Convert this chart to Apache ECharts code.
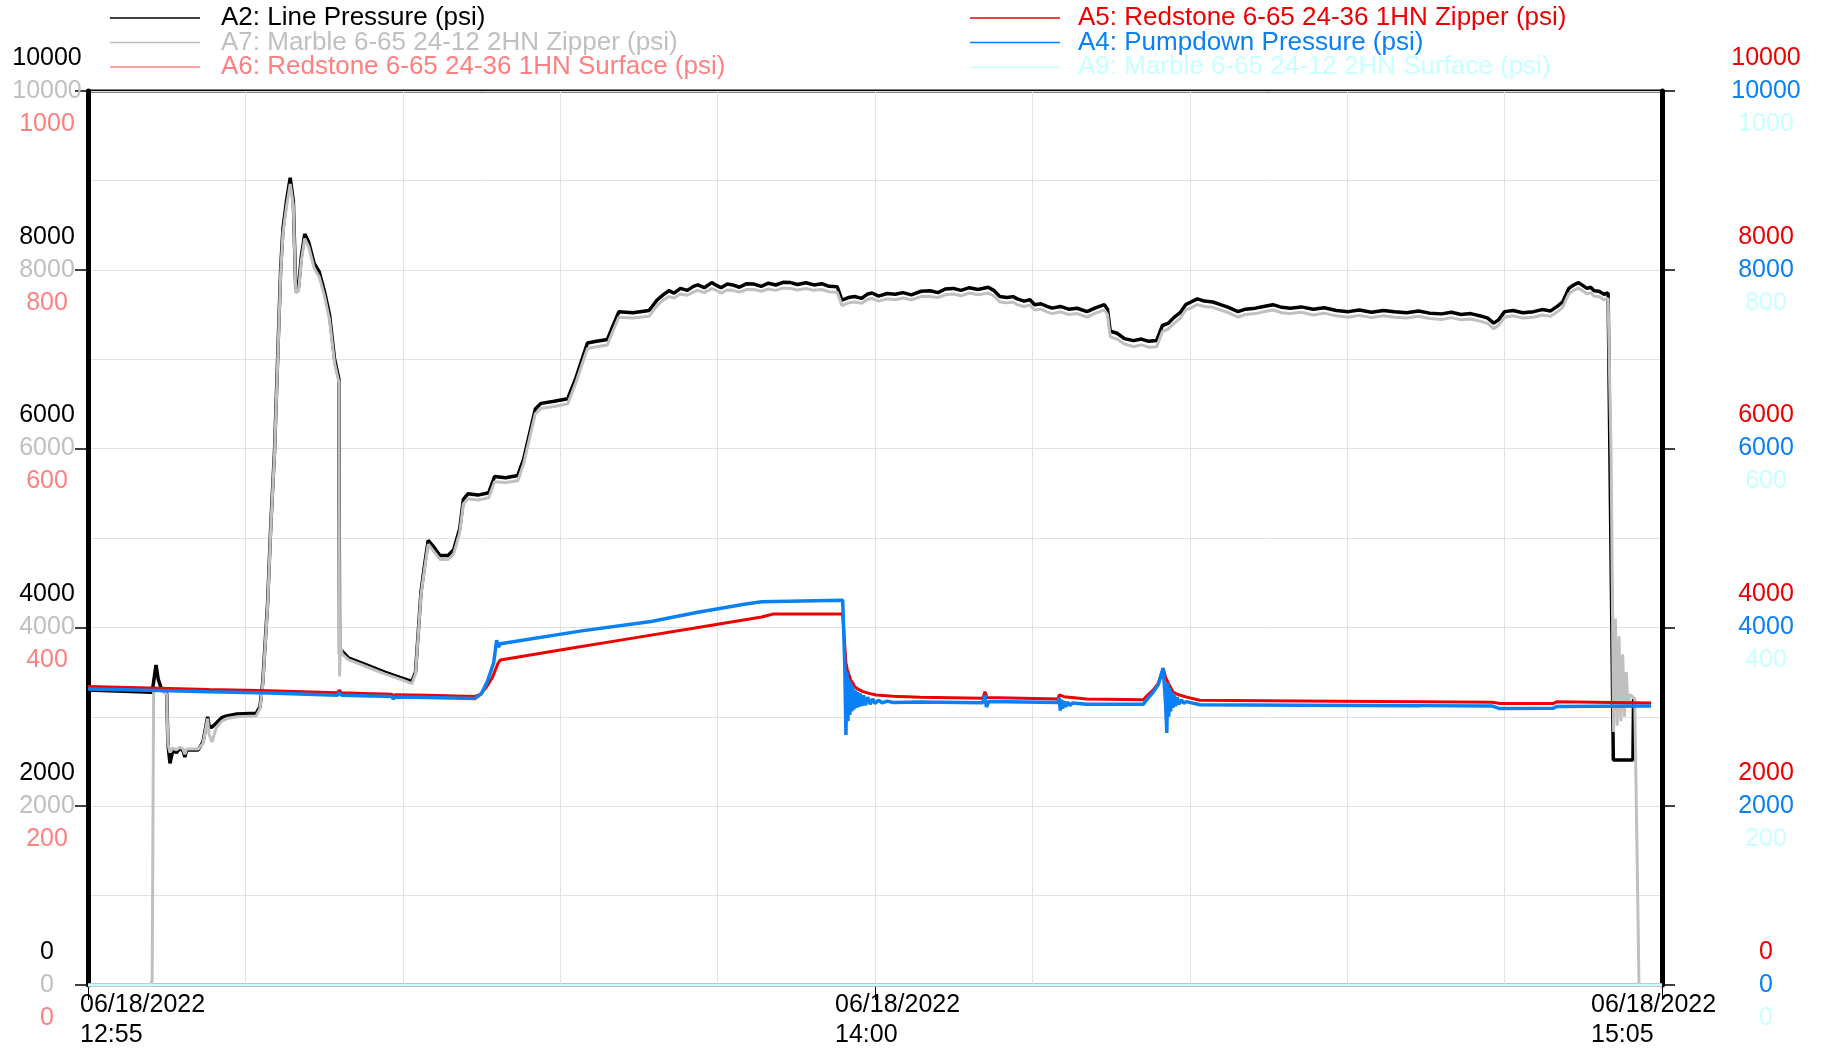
<!DOCTYPE html>
<html><head><meta charset="utf-8">
<script src="https://cdn.jsdelivr.net/npm/echarts/dist/echarts.min.js"></script>
<style>html,body{margin:0;padding:0;background:#fff}#c{width:1822px;height:1048px}</style>
</head><body><div id="c"></div>
<script>
// ---- x axis: minutes after 06/18/2022 12:55 ----
const xTickLabels = [['06/18/2022','12:55'],['06/18/2022','14:00'],['06/18/2022','15:05']];
// ---- y tick labels ----
const ticksA2 = ['0','2000','4000','6000','8000','10000'];
const ticksA7 = ['0','2000','4000','6000','8000','10000'];
const ticksA6 = ['0','200','400','600','800','1000'];
const ticksA5 = ['0','2000','4000','6000','8000','10000'];
const ticksA4 = ['0','2000','4000','6000','8000','10000'];
const ticksA9 = ['0','200','400','600','800','1000'];

// ---- series data [minute, psi] ----
const A2 = [[0,3300],[5.3,3275],[5.45,3420],[5.62,3580],[5.8,3420],[6.1,3300],[6.5,3262],[6.6,2700],[6.77,2480],[6.9,2560],[7.02,2630],[7.3,2600],[7.6,2650],[7.85,2620],[8.0,2550],[8.15,2630],[9.1,2630],[9.5,2720],[9.88,3000],[10.0,2900],[10.2,2880],[10.6,2930],[11.04,2990],[11.45,3010],[12.3,3031],[13.9,3040],[14.2,3110],[14.43,3380],[14.83,4260],[15.11,5184],[15.4,5954],[15.68,7072],[15.91,7996],[16.1,8458],[16.39,8767],[16.7,9030],[16.96,8767],[17.16,7784],[17.39,7803],[17.62,8150],[17.9,8400],[18.24,8304],[18.67,8073],[19.1,7977],[19.52,7764],[19.95,7495],[20.37,6995],[20.72,6780],[20.78,3700],[20.95,3740],[21.5,3660],[23,3580],[24.5,3500],[26,3430],[26.75,3395],[27.05,3500],[27.5,4390],[27.8,4700],[28.1,4974],[28.5,4909],[29.07,4805],[29.74,4805],[30.2,4870],[30.7,5104],[31.0,5429],[31.37,5494],[32.2,5480],[33.1,5507],[33.58,5688],[34.5,5675],[35.5,5700],[35.98,5883],[36.94,6442],[37.42,6506],[38.5,6530],[39.62,6558],[40.3,6792],[41.25,7182],[42.0,7200],[42.9,7221],[43.37,7377],[43.85,7532],[45.0,7520],[46.34,7545],[47.0,7662],[47.5,7720],[47.97,7766],[48.4,7740],[48.93,7792],[49.5,7770],[50.0,7815],[50.37,7831],[50.9,7800],[51.52,7857],[51.9,7825],[52.29,7800],[52.8,7840],[53.25,7831],[53.8,7805],[54.4,7845],[55,7840],[55.6,7815],[56.2,7850],[56.8,7830],[57.4,7860],[58.04,7857],[58.6,7835],[59.3,7855],[59.96,7831],[60.6,7845],[61.2,7815],[61.88,7810],[62.27,7662],[62.8,7690],[63.32,7701],[63.9,7680],[64.4,7730],[64.76,7740],[65.3,7705],[66.0,7735],[66.68,7727],[67.3,7745],[68.0,7720],[68.8,7760],[69.56,7766],[70.2,7745],[70.8,7785],[71.48,7792],[72.1,7770],[72.8,7800],[73.5,7780],[74.35,7805],[74.8,7770],[75.31,7701],[75.9,7690],[76.4,7700],[76.75,7675],[77.3,7650],[77.8,7665],[78.19,7610],[78.7,7620],[79.2,7590],[79.63,7571],[80.3,7590],[81.0,7560],[81.7,7570],[82.51,7532],[83.2,7575],[83.95,7610],[84.2,7560],[84.43,7312],[85.0,7290],[85.6,7230],[86.35,7208],[87.0,7225],[87.6,7200],[88.26,7208],[88.74,7377],[89.2,7400],[89.7,7468],[90.2,7520],[90.66,7610],[91.1,7640],[91.62,7675],[92.2,7650],[92.9,7640],[93.54,7610],[94.2,7580],[94.98,7532],[95.6,7560],[96.42,7571],[97.1,7590],[97.86,7610],[98.6,7580],[99.3,7571],[100.2,7585],[101.2,7558],[102.1,7575],[103.1,7545],[104.1,7532],[105.0,7550],[106.0,7525],[107.0,7545],[107.9,7532],[108.9,7520],[109.9,7540],[110.8,7515],[111.8,7507],[112.6,7525],[113.4,7500],[114.2,7510],[115.1,7481],[115.6,7460],[116.1,7403],[116.5,7440],[117.0,7532],[117.7,7545],[118.5,7520],[119.4,7532],[120.1,7555],[120.8,7540],[121.4,7597],[121.8,7640],[122.3,7792],[122.7,7830],[123.1,7857],[123.5,7820],[123.8,7792],[124.1,7805],[124.4,7766],[124.8,7760],[125.2,7727],[125.55,7741],[125.98,2517],[127.6,2517],[127.65,3200]];
const A7 = [[0,0],[5.2,0],[5.3,60],[5.42,3300],[6.1,3290],[6.5,3255],[6.6,2700],[6.77,2600],[7.0,2650],[7.3,2630],[7.6,2660],[7.85,2640],[8.0,2580],[8.15,2640],[9.1,2640],[9.5,2700],[9.88,2980],[10.0,2800],[10.25,2720],[10.6,2880],[11.04,2950],[11.45,2980],[12.3,3000],[13.9,3010],[14.2,3090],[14.43,3350],[14.83,4230],[15.11,5150],[15.4,5920],[15.68,7030],[15.91,7950],[16.1,8400],[16.39,8700],[16.7,8960],[16.96,8720],[17.16,7740],[17.39,7760],[17.62,8100],[17.9,8350],[18.24,8250],[18.67,8020],[19.1,7920],[19.52,7710],[19.95,7440],[20.37,6950],[20.72,6740],[20.78,3450],[20.85,3780],[21.0,3700],[21.5,3640],[23,3560],[24.5,3480],[26,3410],[26.75,3370],[27.05,3480],[27.5,4360],[27.8,4660],[28.1,4930],[28.5,4860],[29.07,4760],[29.74,4760],[30.2,4820],[30.7,5060],[31.0,5380],[31.37,5440],[32.2,5425],[33.1,5450],[33.58,5630],[34.5,5620],[35.5,5640],[35.98,5830],[36.94,6390],[37.42,6450],[38.5,6470],[39.62,6500],[40.3,6740],[41.25,7120],[42.0,7140],[42.9,7160],[43.37,7320],[43.85,7470],[45.0,7460],[46.34,7480],[47.0,7600],[47.5,7660],[47.97,7700],[48.4,7685],[48.93,7730],[49.5,7715],[50.0,7750],[50.37,7770],[50.9,7745],[51.52,7790],[51.9,7770],[52.29,7740],[52.8,7775],[53.25,7770],[53.8,7750],[54.4,7780],[55,7780],[55.6,7760],[56.2,7785],[56.8,7770],[57.4,7795],[58.04,7790],[58.6,7775],[59.3,7790],[59.96,7770],[60.6,7780],[61.2,7755],[61.88,7750],[62.27,7600],[62.8,7630],[63.32,7640],[63.9,7625],[64.4,7670],[64.76,7680],[65.3,7650],[66.0,7675],[66.68,7665],[67.3,7685],[68.0,7665],[68.8,7700],[69.56,7700],[70.2,7690],[70.8,7720],[71.48,7730],[72.1,7710],[72.8,7740],[73.5,7720],[74.35,7740],[74.8,7710],[75.31,7640],[75.9,7630],[76.4,7640],[76.75,7610],[77.3,7590],[77.8,7605],[78.19,7550],[78.7,7560],[79.2,7530],[79.63,7510],[80.3,7530],[81.0,7500],[81.7,7510],[82.51,7470],[83.2,7515],[83.95,7550],[84.2,7500],[84.43,7250],[85.0,7225],[85.6,7170],[86.35,7140],[87.0,7160],[87.6,7135],[88.26,7140],[88.74,7310],[89.2,7335],[89.7,7400],[90.2,7455],[90.66,7550],[91.1,7575],[91.62,7610],[92.2,7590],[92.9,7580],[93.54,7550],[94.2,7520],[94.98,7470],[95.6,7500],[96.42,7510],[97.1,7530],[97.86,7550],[98.6,7520],[99.3,7510],[100.2,7525],[101.2,7495],[102.1,7515],[103.1,7485],[104.1,7470],[105.0,7490],[106.0,7465],[107.0,7485],[107.9,7470],[108.9,7460],[109.9,7480],[110.8,7455],[111.8,7445],[112.6,7465],[113.4,7440],[114.2,7450],[115.1,7420],[115.6,7400],[116.1,7340],[116.5,7380],[117.0,7470],[117.7,7485],[118.5,7460],[119.4,7470],[120.1,7495],[120.8,7480],[121.4,7535],[121.8,7580],[122.3,7730],[122.7,7770],[123.1,7795],[123.5,7760],[123.8,7730],[124.1,7745],[124.4,7705],[124.8,7700],[125.2,7665],[125.55,7680],[125.8,5900],[126.0,2830],[126.15,4100],[126.3,2900],[126.45,3900],[126.6,2950],[126.75,3700],[126.9,3000],[127.05,3500],[127.2,3100],[127.35,3250],[127.75,3200],[128.1,0],[130,0]];
const A6 = [[0,0],[130,0]];
const A5 = [[0,3338],[5,3322],[10,3305],[15,3290],[20.6,3268],[20.75,3295],[20.95,3268],[23.4,3258],[23.5,3280],[23.7,3258],[25.1,3252],[25.2,3228],[25.4,3248],[28,3240],[31.95,3228],[32.4,3250],[32.9,3330],[33.4,3440],[33.87,3600],[34.06,3636],[40,3770],[45,3880],[50,3990],[55.64,4117],[56.6,4150],[62.33,4150],[62.6,3600],[62.71,3531],[62.85,3470],[62.99,3412],[63.15,3380],[63.32,3337],[63.6,3310],[64.0,3281],[64.5,3262],[65.1,3244],[66.5,3230],[68.71,3218],[73.9,3207],[74.08,3281],[74.25,3215],[80.1,3200],[80.22,3245],[80.6,3225],[82.48,3200],[87.16,3190],[87.5,3240],[87.99,3300],[88.4,3375],[88.8,3543],[89.0,3440],[89.23,3375],[89.6,3280],[90.0,3250],[90.74,3220],[91.84,3185],[100,3178],[110,3168],[116.0,3162],[116.6,3148],[121,3148],[121.3,3168],[129.1,3155]];
const A4 = [[0,3312],[5,3296],[10,3280],[15,3265],[20.6,3242],[20.75,3268],[20.95,3242],[23.4,3234],[23.5,3252],[23.7,3232],[25.1,3228],[25.2,3200],[25.4,3222],[28,3215],[31.95,3205],[32.5,3260],[33.0,3400],[33.5,3600],[33.75,3857],[33.9,3780],[34.06,3818],[40.77,3961],[46.5,4065],[50.37,4169],[54.2,4260],[55.64,4286],[62.33,4305],[62.5,3600],[62.6,2797],[62.68,3500],[62.76,2950],[62.84,3420],[62.92,3020],[63.0,3380],[63.08,3060],[63.16,3340],[63.25,3080],[63.35,3300],[63.45,3100],[63.55,3280],[63.65,3110],[63.78,3260],[63.9,3120],[64.05,3240],[64.2,3130],[64.4,3220],[64.6,3140],[64.8,3200],[65.0,3150],[65.3,3185],[65.6,3155],[66,3175],[66.5,3160],[68.7,3165],[73.9,3158],[74.08,3240],[74.2,3110],[74.4,3170],[80.1,3160],[80.22,3215],[80.3,3069],[80.4,3190],[80.5,3090],[80.62,3175],[80.75,3110],[80.9,3165],[81.1,3125],[81.3,3155],[82.5,3140],[87.16,3140],[87.5,3200],[88.0,3280],[88.4,3360],[88.8,3543],[88.9,3350],[89.0,3150],[89.1,2819],[89.18,3380],[89.26,3000],[89.34,3320],[89.42,3060],[89.5,3280],[89.6,3100],[89.7,3250],[89.82,3120],[89.95,3220],[90.1,3140],[90.3,3190],[90.5,3150],[90.7,3170],[91.84,3135],[100,3130],[110,3125],[116,3120],[116.6,3092],[121,3095],[121.3,3115],[129.1,3122]];
const A9 = [[0,0],[130,0]];

const FONT = '"Liberation Sans", Arial, Helvetica, sans-serif';
const GRIDC = '#e2e2e2';
const LH = 33;
const tok = (color) => ({ color, fontSize: 25, lineHeight: LH, fontFamily: FONT, align: 'center' });

// each side: one axis carries the stacked labels of its three scales
function yAx(position, max, interval, main, labelSets) {
  const ax = {
    type: 'value', position, min: 0, max, interval,
    axisLine: { show: main, onZero: false, lineStyle: { color: '#000', width: 5 } },
    axisTick: { show: main, length: 13, lineStyle: { color: '#000', width: 1.5 } },
    splitLine: { show: main && position === 'left', lineStyle: { color: GRIDC, width: 1 } },
    minorTick: { show: false, splitNumber: 2 },
    minorSplitLine: { show: main && position === 'left', lineStyle: { color: GRIDC, width: 1 } },
    axisLabel: { show: false }
  };
  if (labelSets) {
    ax.axisLabel = {
      show: true, align: 'center', verticalAlign: 'middle',
      margin: position === 'left' ? 41 : 104,
      rich: { a: tok(labelSets[0][1]), b: tok(labelSets[1][1]), c: tok(labelSets[2][1]) },
      formatter: (v) => {
        const i = Math.round(v / interval);
        return `{a|${labelSets[0][0][i]}}\n{b|${labelSets[1][0][i]}}\n{c|${labelSets[2][0][i]}}`;
      }
    };
  }
  return ax;
}

const xRich = {
  x0: { width: 126, align: 'left', padding: [0, 0, 0, 110], fontSize: 25, lineHeight: 30, fontFamily: FONT, color: '#000' },
  x1: { width: 126, align: 'left', padding: [0, 0, 0, 46], fontSize: 25, lineHeight: 30, fontFamily: FONT, color: '#000' },
  x2: { width: 126, align: 'left', padding: [0, 16, 0, 0], fontSize: 25, lineHeight: 30, fontFamily: FONT, color: '#000' }
};

const lineS = (name, data, yIdx, color, w, extra) => Object.assign({
  type: 'line', name, data, yAxisIndex: yIdx, symbol: 'none', showSymbol: false,
  lineStyle: { color, width: w }, itemStyle: { color }, animation: false
}, extra || {});

const legBase = {
  orient: 'vertical', top: 5, padding: 0, itemWidth: 90, itemHeight: 1.5, itemGap: -1.5,
  icon: 'rect', selectedMode: false,
  textStyle: { fontSize: 26, fontFamily: FONT, lineHeight: 22.5 }
};
const legItem = (name, color, padLeft) => ({ name, itemStyle: { color }, textStyle: { color, padding: [0, 0, 0, padLeft] } });

const option = {
  animation: false,
  backgroundColor: '#fff',
  grid: { left: 88, right: 160, top: 91, bottom: 63, show: true, borderColor: '#000', borderWidth: 3, containLabel: false, outerBoundsMode: 'none' },
  legend: [
    Object.assign({}, legBase, { left: 110, data: [
      legItem('A2: Line Pressure (psi)', '#000000', 16),
      legItem('A7: Marble 6-65 24-12 2HN Zipper (psi)', '#c0c0c0', 16),
      legItem('A6: Redstone 6-65 24-36 1HN Surface (psi)', '#ff8080', 16)
    ]}),
    Object.assign({}, legBase, { left: 970, data: [
      legItem('A5: Redstone 6-65 24-36 1HN Zipper (psi)', '#ee0000', 13),
      legItem('A4: Pumpdown Pressure (psi)', '#0a80f5', 13),
      legItem('A9: Marble 6-65 24-12 2HN Surface (psi)', '#c8ffff', 13)
    ]})
  ],
  xAxis: {
    type: 'value', min: 0, max: 130, interval: 65,
    axisLine: { show: true, onZero: false, lineStyle: { color: '#000', width: 2 } },
    axisTick: { show: true, length: 15, lineStyle: { color: '#000', width: 1 } },
    splitLine: { show: true, lineStyle: { color: GRIDC, width: 1 } },
    minorTick: { show: false, splitNumber: 5 },
    minorSplitLine: { show: true, lineStyle: { color: GRIDC, width: 1 } },
    axisLabel: {
      show: true, align: 'center', verticalAlign: 'top', margin: 5, showMinLabel: true, showMaxLabel: true,
      rich: xRich,
      formatter: (v) => { const i = Math.round(v / 65); const l = xTickLabels[i]; return l ? `{x${i}|${l[0]}}\n{x${i}|${l[1]}}` : ''; }
    }
  },
  yAxis: [
    yAx('left', 10000, 2000, false),
    yAx('left', 10000, 2000, true, [[ticksA2, '#000000'], [ticksA7, '#c0c0c0'], [ticksA6, '#ff8080']]),
    yAx('left', 1000, 200, false),
    yAx('right', 10000, 2000, false),
    yAx('right', 10000, 2000, true, [[ticksA5, '#ee0000'], [ticksA4, '#0a80f5'], [ticksA9, '#c8ffff']]),
    yAx('right', 1000, 200, false)
  ],
  series: [
    lineS('A2: Line Pressure (psi)', A2, 0, '#000000', 3.5),
    lineS('A7: Marble 6-65 24-12 2HN Zipper (psi)', A7, 1, '#c0c0c0', 3),
    lineS('A6: Redstone 6-65 24-36 1HN Surface (psi)', A6, 2, '#ff8080', 3, { clip: false }),
    lineS('A5: Redstone 6-65 24-36 1HN Zipper (psi)', A5, 3, '#ee0000', 3),
    lineS('A4: Pumpdown Pressure (psi)', A4, 4, '#0a80f5', 3.5),
    lineS('A9: Marble 6-65 24-12 2HN Surface (psi)', A9, 5, '#c8ffff', 3, { clip: false })
  ]
};
const chart = echarts.init(document.getElementById('c'), null, { renderer: 'canvas' });
chart.setOption(option);
</script></body></html>
